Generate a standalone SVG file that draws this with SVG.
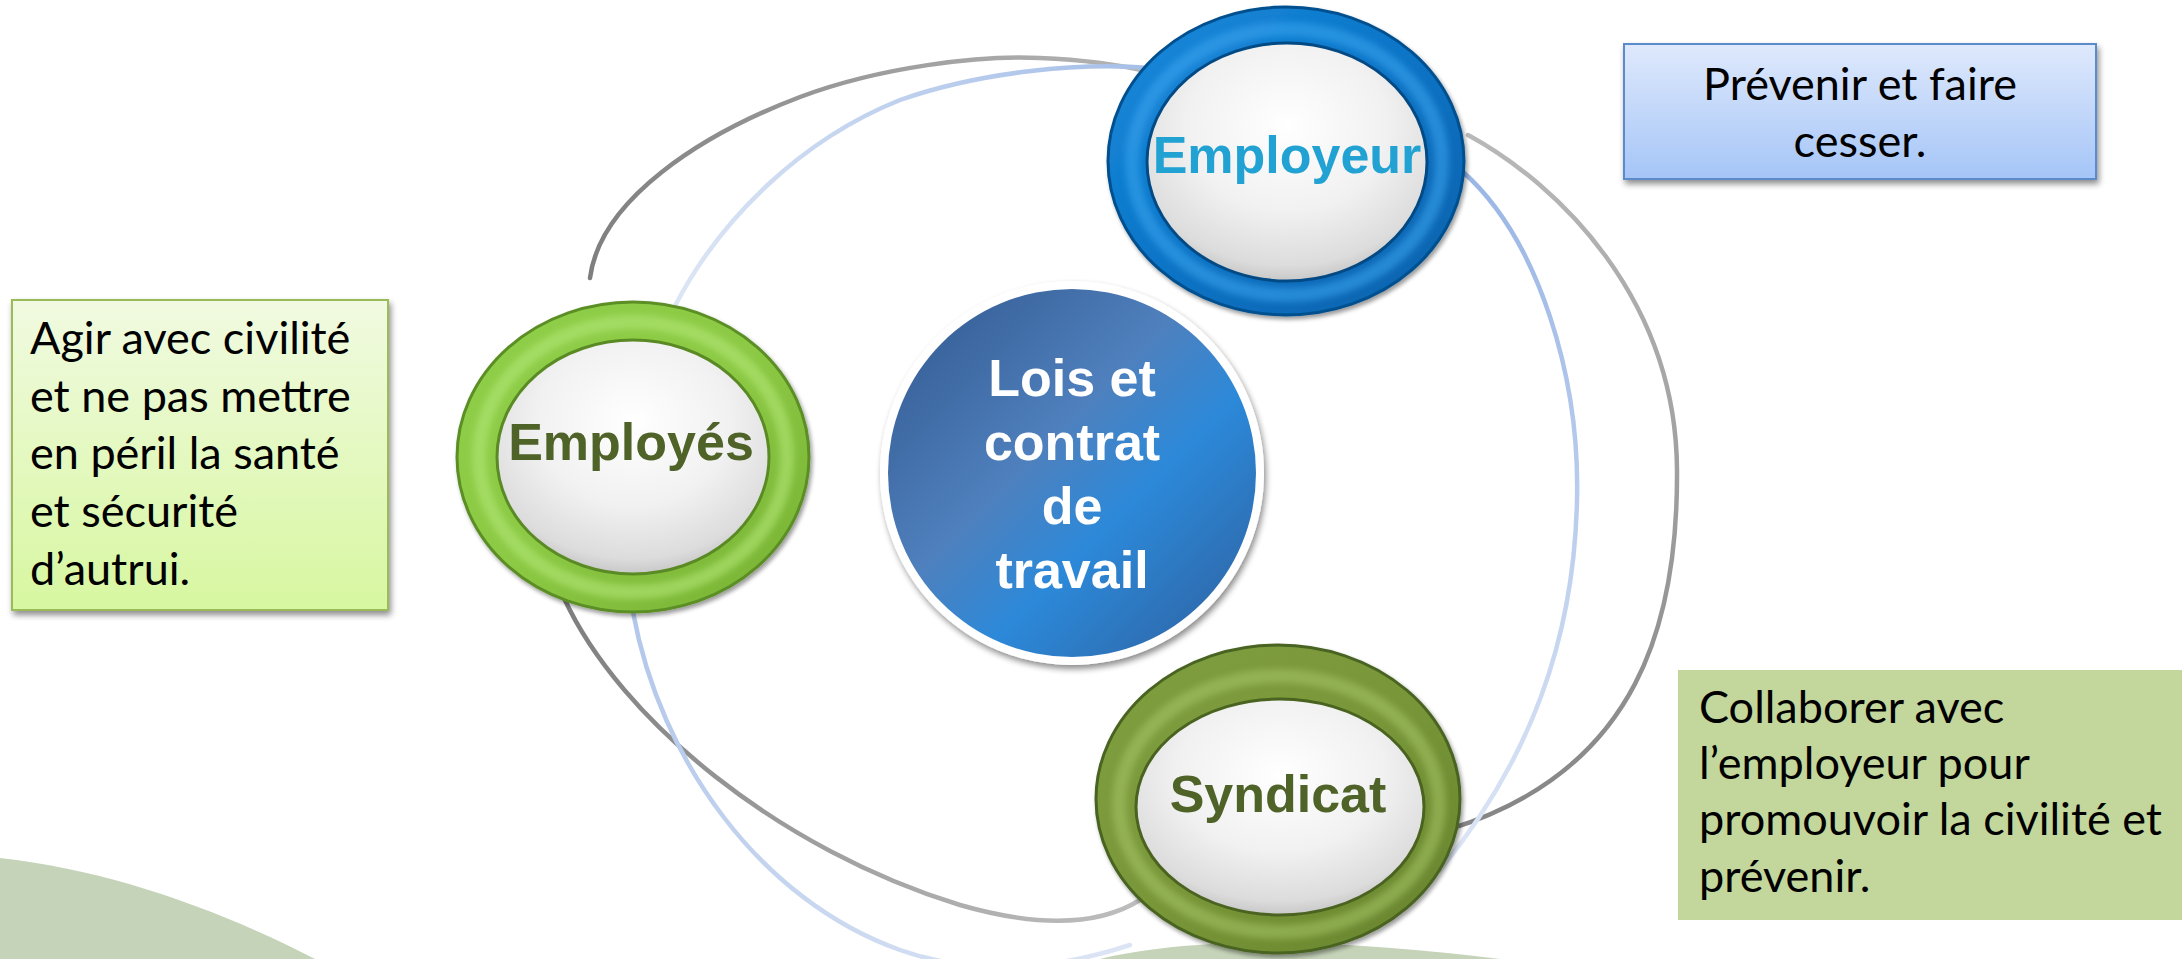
<svg xmlns="http://www.w3.org/2000/svg" width="2182" height="959" viewBox="0 0 2182 959">
<defs>
<style>
.lbl{font-family:"Liberation Sans",Arial,sans-serif;font-weight:bold;font-size:52px;text-anchor:middle}
.note{font-family:Lato,"Open Sans",sans-serif;font-size:45px;fill:#000}
.con{fill:none;stroke-width:4.5;stroke-linecap:round}
.hill{fill:#C5D3B9}
.band{fill:none;stroke-width:14;filter:url(#soft)}
</style>
<filter id="sh" x="-10%" y="-10%" width="125%" height="130%"><feGaussianBlur in="SourceAlpha" stdDeviation="3"/><feOffset dx="2" dy="4"/><feComponentTransfer><feFuncA type="linear" slope="0.45"/></feComponentTransfer><feMerge><feMergeNode/><feMergeNode in="SourceGraphic"/></feMerge></filter>
<filter id="shs" x="-10%" y="-10%" width="125%" height="130%"><feGaussianBlur in="SourceAlpha" stdDeviation="2"/><feOffset dx="2" dy="3"/><feComponentTransfer><feFuncA type="linear" slope="0.4"/></feComponentTransfer><feMerge><feMergeNode/><feMergeNode in="SourceGraphic"/></feMerge></filter>
<filter id="soft" x="-10%" y="-10%" width="120%" height="120%"><feGaussianBlur stdDeviation="3"/></filter>
<radialGradient id="pearl" cx="50%" cy="35%" r="65%"><stop offset="0" stop-color="#FFFFFF"/><stop offset="0.55" stop-color="#F1F1F1"/><stop offset="0.9" stop-color="#DCDCDC"/><stop offset="1" stop-color="#C8C8C8"/></radialGradient>
<linearGradient id="gBlue" x1="0" y1="0" x2="1" y2="1"><stop offset="0" stop-color="#1A8BDD"/><stop offset="0.5" stop-color="#0A74C6"/><stop offset="1" stop-color="#0660AA"/></linearGradient>
<linearGradient id="gGreen" x1="0" y1="0" x2="1" y2="1"><stop offset="0" stop-color="#8FCF48"/><stop offset="0.5" stop-color="#8CC944"/><stop offset="1" stop-color="#76B032"/></linearGradient>
<linearGradient id="gOlive" x1="0" y1="0" x2="1" y2="1"><stop offset="0" stop-color="#7F9F3F"/><stop offset="0.5" stop-color="#799739"/><stop offset="1" stop-color="#66832C"/></linearGradient>
<linearGradient id="gCenter" x1="0" y1="0" x2="1" y2="1"><stop offset="0" stop-color="#30568C"/><stop offset="0.42" stop-color="#4F80BD"/><stop offset="0.62" stop-color="#2C89D9"/><stop offset="1" stop-color="#2F5E9C"/></linearGradient>
<linearGradient id="gBoxG" x1="0" y1="0" x2="0" y2="1"><stop offset="0" stop-color="#F1FAE1"/><stop offset="1" stop-color="#D7F7A0"/></linearGradient>
<linearGradient id="gBoxB" x1="0" y1="0" x2="0" y2="1"><stop offset="0" stop-color="#DFE9FC"/><stop offset="1" stop-color="#A5C5F7"/></linearGradient>
<linearGradient id="gr1" gradientUnits="userSpaceOnUse" x1="590" y1="290" x2="1150" y2="70"><stop offset="0" stop-color="#7E7E7E"/><stop offset="1" stop-color="#B4B4B4"/></linearGradient>
<linearGradient id="bl1" gradientUnits="userSpaceOnUse" x1="676" y1="304" x2="1150" y2="68"><stop offset="0" stop-color="#DDE6F5"/><stop offset="1" stop-color="#A6BFE8"/></linearGradient>
<linearGradient id="gr2" gradientUnits="userSpaceOnUse" x1="1468" y1="135" x2="1450" y2="829"><stop offset="0" stop-color="#B8B8B8"/><stop offset="1" stop-color="#858585"/></linearGradient>
<linearGradient id="bl2" gradientUnits="userSpaceOnUse" x1="1462" y1="171" x2="1440" y2="870"><stop offset="0" stop-color="#9AB6E5"/><stop offset="1" stop-color="#DDE6F5"/></linearGradient>
<linearGradient id="gr3" gradientUnits="userSpaceOnUse" x1="564" y1="598" x2="1140" y2="900"><stop offset="0" stop-color="#7E7E7E"/><stop offset="1" stop-color="#BDBDBD"/></linearGradient>
<linearGradient id="bl3" gradientUnits="userSpaceOnUse" x1="633" y1="612" x2="1130" y2="945"><stop offset="0" stop-color="#B3C7EA"/><stop offset="1" stop-color="#DCE5F5"/></linearGradient>
</defs>
<rect width="2182" height="959" fill="#FFFFFF"/>
<g id="background">
<path class="hill" d="M0,858 C110,870 220,910 315,959 L0,959 Z"/>
<path class="hill" d="M1100,959 C1180,940 1300,935 1500,959 Z"/>
</g>
<g id="connectors">
<path class="con" stroke="url(#gr1)" d="M590,278 C600,200 700,135 800,97 C880,67 980,55 1040,58 C1090,60 1125,66 1150,72"/>
<path class="con" stroke="url(#bl1)" d="M676,304 C720,220 800,140 900,100 C980,72 1080,62 1150,68"/>
<path class="con" stroke="url(#gr2)" d="M1468,135 C1560,185 1676,300 1677,470 C1678,620 1640,770 1450,829"/>
<path class="con" stroke="url(#bl2)" d="M1462,171 C1540,240 1580,380 1577,500 C1574,640 1530,760 1440,870"/>
<path class="con" stroke="url(#gr3)" d="M564,598 C620,720 780,850 960,905 C1040,928 1100,925 1140,900"/>
<path class="con" stroke="url(#bl3)" d="M633,612 C660,760 760,900 900,950 C980,978 1060,968 1130,945"/>
</g>
<g id="node-lois">
<circle cx="1072" cy="473" r="192" fill="#FFFFFF" filter="url(#sh)"/>
<circle cx="1072" cy="473" r="184" fill="url(#gCenter)"/>
<text class="lbl" fill="#FFFFFF"><tspan x="1072" y="396">Lois et</tspan><tspan x="1072" y="460">contrat</tspan><tspan x="1072" y="524">de</tspan><tspan x="1072" y="588">travail</tspan></text>
</g>
<g id="node-employeur">
<ellipse cx="1286" cy="161" rx="178" ry="154" fill="url(#gBlue)" stroke="#02508F" stroke-width="3" filter="url(#shs)"/>
<ellipse class="band" cx="1287" cy="162" rx="155" ry="133" stroke="#3BA5EF" opacity="0.55"/>
<ellipse cx="1287" cy="162" rx="140" ry="119" fill="url(#pearl)" stroke="#034A85" stroke-width="3"/>
<text class="lbl" x="1287" y="173" fill="#21A2D3">Employeur</text>
</g>
<g id="node-employes">
<ellipse cx="633" cy="457" rx="176" ry="155" fill="url(#gGreen)" stroke="#5C8E25" stroke-width="3" filter="url(#shs)"/>
<ellipse class="band" cx="633" cy="457" rx="154" ry="135" stroke="#B6E97A" opacity="0.55"/>
<ellipse cx="633" cy="457" rx="136" ry="117" fill="url(#pearl)" stroke="#5A8A24" stroke-width="3"/>
<text class="lbl" x="631" y="460" fill="#4F6228">Employés</text>
</g>
<g id="node-syndicat">
<ellipse cx="1278" cy="799" rx="182" ry="154" fill="url(#gOlive)" stroke="#4A6320" stroke-width="3" filter="url(#shs)"/>
<ellipse class="band" cx="1279" cy="804" rx="160" ry="128" stroke="#A9C96A" opacity="0.5"/>
<ellipse cx="1280" cy="807" rx="144" ry="108" fill="url(#pearl)" stroke="#4A6320" stroke-width="3"/>
<text class="lbl" x="1278" y="812" fill="#4F6228">Syndicat</text>
</g>
<g id="note-employes">
<rect x="12" y="300" width="376" height="310" fill="url(#gBoxG)" stroke="#9BBB59" stroke-width="2" filter="url(#sh)"/>
<text class="note"><tspan x="30" y="354">Agir avec civilité</tspan><tspan x="30" y="412">et ne pas mettre</tspan><tspan x="30" y="469">en péril la santé</tspan><tspan x="30" y="527">et sécurité</tspan><tspan x="30" y="585">d’autrui.</tspan></text>
</g>
<g id="note-employeur">
<rect x="1624" y="44" width="472" height="135" fill="url(#gBoxB)" stroke="#5B8BCB" stroke-width="2" filter="url(#sh)"/>
<text class="note" text-anchor="middle"><tspan x="1860" y="100">Prévenir et faire</tspan><tspan x="1860" y="157">cesser.</tspan></text>
</g>
<g id="note-syndicat">
<rect x="1678" y="670" width="504" height="250" fill="#C3D69B"/>
<text class="note"><tspan x="1699" y="723">Collaborer avec</tspan><tspan x="1699" y="779">l’employeur pour</tspan><tspan x="1699" y="835">promouvoir la civilité et</tspan><tspan x="1699" y="892">prévenir.</tspan></text>
</g>
</svg>
